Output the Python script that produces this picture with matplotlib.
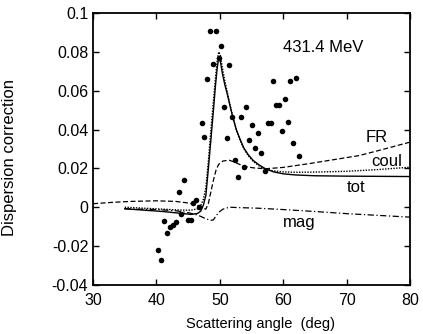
import matplotlib
matplotlib.use("Agg")
import matplotlib.pyplot as plt

plt.rcParams["font.family"] = ["Liberation Sans", "DejaVu Sans"]

# measured data points (angle in deg, dispersion correction)
data_x = [48.50, 49.37, 50.21, 48.95, 49.88, 51.50, 48.06, 50.69, 47.16, 47.57,
          51.97, 53.28, 54.10, 51.18, 55.12, 56.07, 54.57, 55.63, 56.52, 58.41,
          58.88, 59.36, 60.25, 57.62, 58.04, 59.78, 60.73, 61.12, 62.07, 61.59,
          62.50, 52.46, 53.80, 52.89, 57.12, 44.38, 43.50, 46.23, 45.79, 46.75,
          43.94, 43.07, 42.65, 42.18, 41.18, 41.66, 44.93, 45.41, 40.27, 40.73]
data_y = [0.0906, 0.0909, 0.0831, 0.0739, 0.0769, 0.0734, 0.0662, 0.0515, 0.0435, 0.0360,
          0.0464, 0.0463, 0.0515, 0.0354, 0.0422, 0.0384, 0.0346, 0.0307, 0.0279, 0.0649,
          0.0527, 0.0528, 0.0559, 0.0434, 0.0436, 0.0391, 0.0440, 0.0652, 0.0665, 0.0331,
          0.0264, 0.0243, 0.0208, 0.0158, 0.0184, 0.0138, 0.0078, 0.0038, 0.0023, 0.0001,
          -0.0034, -0.0078, -0.0092, -0.0104, -0.0070, -0.0132, -0.0066, -0.0066, -0.0222, -0.0272]

# total and coulomb curves
curve_x = [35, 38, 41, 44, 45.5, 46.5, 47.0, 47.4, 47.8, 48.2, 48.6, 49.0, 49.3, 49.6,
           49.85, 50.1, 50.4, 50.8, 51.2, 51.6, 52.0, 52.6, 53.2, 53.8, 54.5, 55.3,
           56.2, 57.2, 58.5, 60, 62, 65, 70, 75, 80]
tot_y = [-0.0008, -0.0015, -0.0022, -0.0032, -0.0037, -0.0032, -0.0020, 0.0010, 0.0060,
         0.0200, 0.0350, 0.0500, 0.0620, 0.0720, 0.0772, 0.0750, 0.0690, 0.0630, 0.0580,
         0.0525, 0.0470, 0.0400, 0.0350, 0.0305, 0.0270, 0.0240, 0.0218, 0.0198, 0.0182,
         0.0172, 0.0166, 0.0162, 0.0160, 0.0159, 0.0158]
coul_y = [0.0000, -0.0005, -0.0010, -0.0015, -0.0015, -0.0008, 0.0010, 0.0040, 0.0100,
          0.0240, 0.0400, 0.0550, 0.0660, 0.0760, 0.0800, 0.0780, 0.0720, 0.0650, 0.0590,
          0.0530, 0.0475, 0.0400, 0.0345, 0.0300, 0.0265, 0.0235, 0.0213, 0.0196, 0.0187,
          0.0182, 0.0180, 0.0181, 0.0185, 0.0194, 0.0206]

# FR curve
fr_x = [30, 33, 36, 40, 43, 45, 46.5, 47.3, 47.8, 48.2, 48.6, 49.0, 49.4, 49.8, 50.5,
        51.5, 52.5, 53.8, 55.5, 57.2, 60, 64, 68, 72, 76, 80]
fr_y = [0.0018, 0.0025, 0.0030, 0.0033, 0.0030, 0.0022, 0.0010, -0.0005, -0.0010, 0.0020,
        0.0080, 0.0140, 0.0190, 0.0220, 0.0238, 0.0242, 0.0230, 0.0210, 0.0202, 0.0198,
        0.0205, 0.0224, 0.0245, 0.0266, 0.0300, 0.0335]

# magnetic curve
mag_x = [35, 40, 43, 45, 46.5, 47.5, 48.5, 49.0, 49.5, 50.0, 50.5, 51.5, 53, 56, 60,
         65, 70, 75, 80]
mag_y = [-0.0008, -0.0012, -0.0018, -0.0028, -0.0040, -0.0055, -0.0068, -0.0065, -0.0040,
         -0.0022, -0.0010, 0.0000, -0.0002, -0.0005, -0.0012, -0.0022, -0.0033, -0.0042, -0.0051]

y_ticks = [-0.04, -0.02, 0, 0.02, 0.04, 0.06, 0.08, 0.1]
y_tick_labels = ["-0.04", "-0.02", "0", "0.02", "0.04", "0.06", "0.08", "0.1"]
x_ticks = [30, 40, 50, 60, 70, 80]

fig = plt.figure(figsize=(4.23, 3.34), dpi=100)
ax = fig.add_axes([0.22, 0.147, 0.749, 0.814])

ax.plot(curve_x, tot_y, color="black", lw=1.0, ls="-")
ax.plot(curve_x, coul_y, color="black", lw=1.0, ls=(0, (1, 1)))
ax.plot(fr_x, fr_y, color="black", lw=0.9, ls=(0, (4, 2)))
ax.plot(mag_x, mag_y, color="black", lw=0.9, ls=(0, (5, 2, 1, 2)))
ax.plot(data_x, data_y, "o", color="black", ms=4, mec="none")

ax.text(66.3, 0.082, "431.4 MeV", fontsize=12, ha="center", va="center")
ax.text(74.8, 0.036, "FR", fontsize=12, ha="center", va="center")
ax.text(76.3, 0.0235, "coul", fontsize=12, ha="center", va="center")
ax.text(71.45, 0.0101, "tot", fontsize=12, ha="center", va="center")
ax.text(62.5, -0.0077, "mag", fontsize=12, ha="center", va="center")

ax.set_xlim(30, 80)
ax.set_ylim(-0.04, 0.1)
ax.set_xticks(x_ticks)
ax.set_yticks(y_ticks)
ax.set_yticklabels(y_tick_labels)
ax.tick_params(direction="in", length=4, width=1, top=True, right=True, labelsize=11.5)
ax.tick_params(axis="x", pad=6)
for sp in ax.spines.values():
    sp.set_linewidth(1.3)

ax.set_xlabel("Scattering angle  (deg)", fontsize=10.5)
ax.set_ylabel("Dispersion correction", fontsize=12)
ax.xaxis.set_label_coords(0.53, -0.118)
ax.yaxis.set_label_coords(-0.24, 0.47)

fig.savefig("out.png", dpi=100)
